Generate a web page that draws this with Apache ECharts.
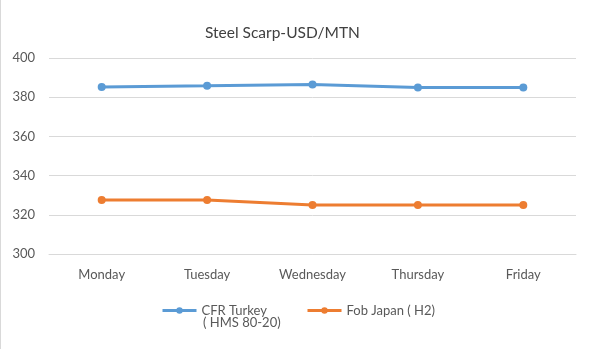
<!DOCTYPE html>
<html>
<head>
<meta charset="utf-8">
<script src="https://cdn.jsdelivr.net/npm/echarts@6/dist/echarts.min.js"></script>
<style>
html,body{margin:0;padding:0;background:#fff;}
#c{width:592px;height:349px;box-sizing:border-box;border-left:1px solid #d9d9d9;}
</style>
</head>
<body>
<div id="c"></div>
<script>
const categories = ['Monday', 'Tuesday', 'Wednesday', 'Thursday', 'Friday'];
const cfrTurkey = [385.2, 385.8, 386.5, 385, 385];
const fobJapan = [327.6, 327.6, 325, 325, 325];
const seriesNames = ['CFR Turkey\n( HMS 80-20)', 'Fob Japan ( H2)'];
const yTicks = { min: 300, max: 400, interval: 20 };

const font = 'Lato, "Open Sans", sans-serif';
const chart = echarts.init(document.getElementById('c'));
chart.setOption({
  animation: false,
  title: {
    text: 'Steel Scarp-USD/MTN',
    left: 199, top: 20,
    textStyle: { fontFamily: font, fontSize: 15.5, fontWeight: 'normal', color: '#404040' }
  },
  legend: [
    {
      data: [seriesNames[0]], left: 155, top: 299, itemWidth: 34, itemHeight: 8,
      formatter: (n) => n.split('\n')[0],
      lineStyle: { width: 3 },
      textStyle: { fontFamily: font, fontSize: 13, color: '#595959' }
    },
    {
      data: [seriesNames[1]], left: 300, top: 299, itemWidth: 34, itemHeight: 8,
      lineStyle: { width: 3 },
      textStyle: { fontFamily: font, fontSize: 13, color: '#595959' }
    }
  ],
  graphic: [{
    type: 'text', left: 202, top: 316,
    style: { text: seriesNames[0].split('\n')[1], font: '13px ' + font, fill: '#595959' }
  }],
  grid: { left: 48, right: 16, top: 58, bottom: 95 },
  xAxis: {
    type: 'category', data: categories, boundaryGap: true,
    axisLine: { lineStyle: { color: '#d9d9d9' } },
    axisTick: { show: false },
    axisLabel: { fontFamily: font, fontSize: 13, color: '#595959', margin: 14 }
  },
  yAxis: {
    type: 'value', min: yTicks.min, max: yTicks.max, interval: yTicks.interval,
    axisLine: { show: false }, axisTick: { show: false },
    axisLabel: { fontFamily: font, fontSize: 13, color: '#595959', margin: 14 },
    splitLine: { lineStyle: { color: '#d9d9d9' } }
  },
  series: [
    { name: seriesNames[0], type: 'line', data: cfrTurkey, color: '#5B9BD5',
      symbol: 'circle', symbolSize: 8, lineStyle: { width: 3 } },
    { name: seriesNames[1], type: 'line', data: fobJapan, color: '#ED7D31',
      symbol: 'circle', symbolSize: 8, lineStyle: { width: 3 } }
  ]
});
</script>
</body>
</html>
